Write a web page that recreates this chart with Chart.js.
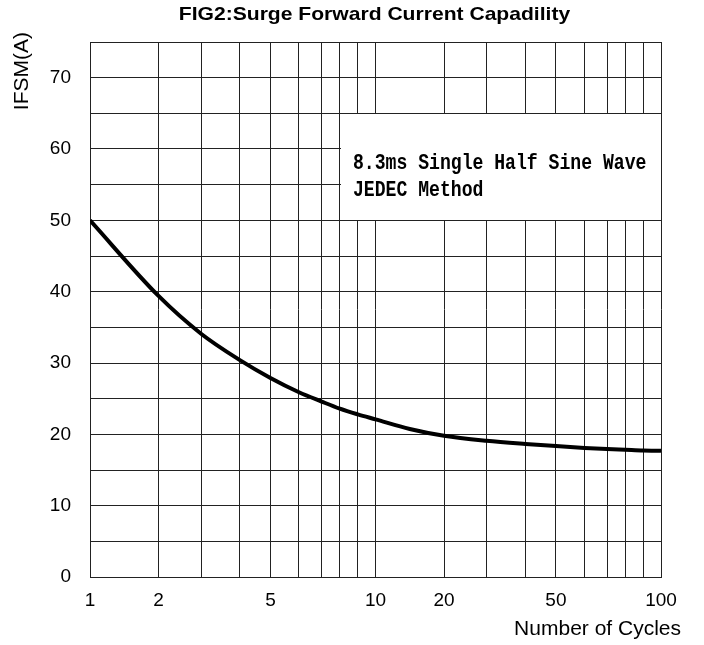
<!DOCTYPE html>
<html>
<head>
<meta charset="utf-8">
<script src="https://cdn.jsdelivr.net/npm/chart.js@4.4.1/dist/chart.umd.min.js"></script>
<style>
    html, body { margin: 0; padding: 0; background: #fff; }
    #wrap { width: 704px; height: 645px; }
</style>
</head>
<body>
<div id="wrap"><canvas id="surgeChart"></canvas></div>
<script>
// Surge curve
const cycles = [1, 2, 3, 4, 5, 6, 7, 8, 9, 10, 15, 20, 30, 40, 50, 60, 70, 80, 90, 100];
const ifsm = [50, 39.4, 34.1, 30.4, 27.9, 25.9, 24.6, 23.6, 22.8, 22.1, 20.75, 19.8, 19.1, 18.65, 18.35, 18.1, 17.95, 17.85, 17.75, 17.7];

const xGridValues = [1, 2, 3, 4, 5, 6, 7, 8, 9, 10, 20, 30, 40, 50, 60, 70, 80, 90, 100];
const xTickLabels = [1, 2, 5, 10, 20, 50, 100];
const yTickLabels = [0, 10, 20, 30, 40, 50, 60, 70];
const noteLines = ['8.3ms Single Half Sine Wave', 'JEDEC Method'];

const gridColor = '#222';

// The printed log paper isn't a true log scale: where 1..10 sit inside one decade
const DECADE = [0, 0.240, 0.389, 0.525, 0.632, 0.732, 0.811, 0.875, 0.938, 1];

class CycleScale extends Chart.LinearScale {
    static id = 'cycles';
    static defaults = Chart.LinearScale.defaults;

    toDecades(v) {
        const d = Math.floor(Math.log10(v) + 1e-9);
        const m = v / Math.pow(10, d);
        const i = Math.max(1, Math.min(9, Math.floor(m + 1e-9)));
        return d + DECADE[i - 1] + (DECADE[i] - DECADE[i - 1]) * (m - i);
    }

    getPixelForValue(v) {
        const a = this.toDecades(this.min);
        const b = this.toDecades(this.max);
        return this.getPixelForDecimal((this.toDecades(v) - a) / (b - a));
    }
}
Chart.register(CycleScale);

// title, axis titles and the note box are drawn by hand
const overlay = {
    id: 'overlay',
    beforeDatasetsDraw(chart) {
        const { ctx, scales: { x, y } } = chart;
        const x1 = Math.round(x.getPixelForValue(8));
        const x2 = Math.round(x.getPixelForValue(100));
        const y1 = Math.round(y.getPixelForValue(65));
        const y2 = Math.round(y.getPixelForValue(50));
        ctx.save();
        ctx.fillStyle = '#fff';
        ctx.fillRect(x1 + 1, y1 + 1, x2 - x1 - 1, y2 - y1 - 1);
        ctx.fillStyle = '#000';
        ctx.font = 'bold 22px "Liberation Mono"';
        ctx.textAlign = 'left';
        ctx.textBaseline = 'middle';
        noteLines.forEach((line, i) => {
            ctx.save();
            ctx.translate(x1 + 13, y1 + 50 + i * 27);
            ctx.scale(0.823, 1);
            ctx.fillText(line, 0, 0);
            ctx.restore();
        });
        ctx.restore();
    },
    afterDraw(chart) {
        const { ctx, chartArea } = chart;
        ctx.save();
        ctx.fillStyle = '#000';
        ctx.textBaseline = 'middle';

        // title is a bit wider than plain Arial bold in the original
        ctx.save();
        ctx.translate((chartArea.left + chartArea.right) / 2 - 1, 15);
        ctx.scale(1.11, 1);
        ctx.font = 'bold 19px "Liberation Sans"';
        ctx.textAlign = 'center';
        ctx.fillText('FIG2:Surge Forward Current Capadility', 0, 0);
        ctx.restore();

        ctx.font = '21px "Liberation Sans"';
        ctx.textAlign = 'right';
        ctx.fillText('Number of Cycles', chartArea.right + 20, chartArea.bottom + 52);

        ctx.translate(22, chartArea.top - 10);
        ctx.rotate(-Math.PI / 2);
        ctx.fillText('IFSM(A)', 0, 0);
        ctx.restore();
    }
};

new Chart(document.getElementById('surgeChart'), {
    type: 'line',
    data: {
        datasets: [{
            label: 'IFSM',
            data: cycles.map((c, i) => ({ x: c, y: ifsm[i] })),
            borderColor: '#000',
            borderWidth: 4,
            pointRadius: 0,
            cubicInterpolationMode: 'monotone',
            fill: false
        }]
    },
    options: {
        responsive: true,
        maintainAspectRatio: false,
        animation: false,
        layout: { padding: { top: 42, right: 43, left: 0, bottom: 0 } },
        plugins: { legend: { display: false }, title: { display: false }, tooltip: { enabled: false } },
        scales: {
            x: {
                type: 'cycles',
                min: 1,
                max: 100,
                afterBuildTicks: s => { s.ticks = xGridValues.map(v => ({ value: v })); },
                afterFit: s => { s.height = 68; },
                grid: { color: gridColor, lineWidth: 1, drawTicks: false },
                border: { color: gridColor },
                ticks: {
                    autoSkip: false,
                    maxRotation: 0,
                    padding: 12,
                    color: '#000',
                    font: { family: 'Liberation Sans', size: 19 },
                    callback: v => xTickLabels.includes(v) ? String(v) : ''
                }
            },
            y: {
                min: 0,
                max: 75,
                afterFit: s => { s.width = 90; },
                grid: { color: gridColor, lineWidth: 1, drawTicks: false },
                border: { color: gridColor },
                ticks: {
                    stepSize: 5,
                    padding: 19,
                    color: '#000',
                    font: { family: 'Liberation Sans', size: 19 },
                    callback: v => yTickLabels.includes(v) ? String(v) : ''
                }
            }
        }
    },
    plugins: [overlay]
});
</script>
</body>
</html>
